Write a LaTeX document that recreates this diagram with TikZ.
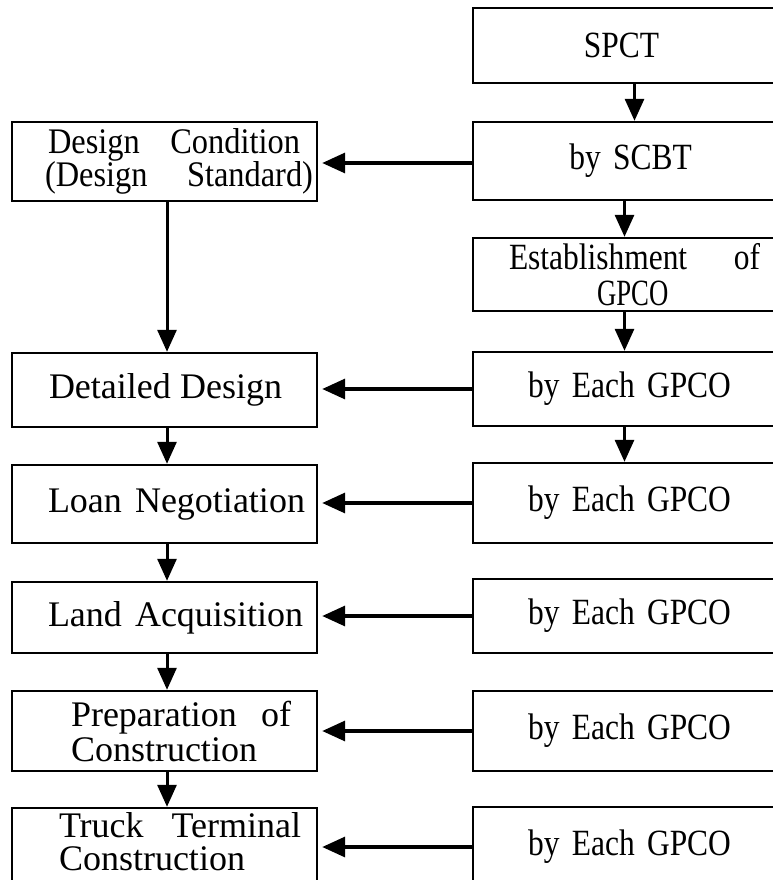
\documentclass[tikz,border=0pt]{standalone}
\usepackage{fontspec}
\usepackage{graphicx}
\setmainfont{Liberation Serif}
\newfontfamily\condfont{Liberation Serif}[FakeStretch=0.85]
\newcommand{\nrw}[1]{\scalebox{0.9}[1]{#1}}
\usetikzlibrary{arrows.meta}
\begin{document}
\begin{tikzpicture}[x=1pt,y=-1pt,
  box/.style={draw, line width=2.4pt, inner sep=0pt},
  lbox/.style={box, minimum width=305pt, text width=305pt, align=left, font=\fontsize{36}{35}\selectfont},
  rbox/.style={box, minimum width=303pt, text width=303pt, align=center, font=\condfont\fontsize{37}{33}\selectfont},
  ltext/.style={inner sep=0pt, text width=305pt, align=left, font=\fontsize{36}{33}\selectfont},
  harr/.style={line width=3.4pt, shorten >=4pt, -{Triangle[length=23pt,width=20pt]}},
  varr/.style={line width=3pt, -{Triangle[length=22pt,width=19pt]}}]
\useasboundingbox (0,0) rectangle (773,880);
\clip (0,0) rectangle (773,880);
% right column
\node[rbox, minimum height=75pt] (spct) at (624.5,45.5) {\hspace*{-6pt}SPCT};
\node[rbox, minimum height=78pt] (scbt) at (624.5,161) {\hspace*{12pt}by SCBT};
\node[rbox, align=left, minimum height=73pt, font=\condfont\fontsize{37}{36}\selectfont] (est) at (624.5,274.5) {\hspace*{36pt}\makebox[251pt]{Establishment\hfill of}\\\hspace*{124pt}\scalebox{0.85}[1]{GPCO}};
\node[rbox, minimum height=74pt] (g1) at (624.5,389) {\hspace*{10pt}by Each GPCO};
\node[rbox, minimum height=80pt] (g2) at (624.5,503) {\hspace*{10pt}by Each GPCO};
\node[rbox, minimum height=74pt] (g3) at (624.5,616) {\hspace*{10pt}by Each GPCO};
\node[rbox, minimum height=80pt] (g4) at (624.5,731) {\hspace*{10pt}by Each GPCO};
\node[rbox, minimum height=80pt] (g5) at (624.5,847) {\hspace*{10pt}by Each GPCO};
% left column
\node[lbox, minimum height=79pt, font=\fontsize{36}{30}\selectfont] (dc) at (164.5,161.5) {\hspace*{36pt}\makebox[252pt]{\nrw{Design}\hfill\nrw{Condition}}\\\hspace*{33pt}\makebox[268pt]{\nrw{(Design}\hfill\nrw{Standard)}}};
\node[lbox, minimum height=74pt] (dd) at (164.5,390) {\hspace*{37pt}\makebox[233pt]{Detailed\hfill Design}};
\node[lbox, minimum height=78pt] (ln) at (164.5,504) {\hspace*{36pt}\makebox[257pt]{Loan\hfill Negotiation}};
\node[lbox, minimum height=71pt] (la) at (164.5,617.5) {\hspace*{36pt}\makebox[255pt]{Land\hfill Acquisition}};
\node[lbox, minimum height=80pt] (pc) at (164.5,731) {\hspace*{59pt}\makebox[220pt]{Preparation\hfill of}\\\hspace*{59pt}Construction};
\node[lbox, minimum height=76pt] (tt) at (164.5,846) {};
\node[ltext, anchor=north west] (tttext) at ([yshift=-6pt]tt.north west) {\hspace*{48pt}\makebox[242pt]{Truck\hfill Terminal}\\\hspace*{48pt}Construction};
% vertical arrows right
\draw[varr] ([xshift=10pt]spct.south) -- ([xshift=10pt]scbt.north);
\draw[varr] (scbt.south) -- (est.north);
\draw[varr] (est.south) -- (g1.north);
\draw[varr] (g1.south) -- (g2.north);
% vertical arrows left
\draw[varr] ([xshift=2.5pt]dc.south) -- ([xshift=2.5pt]dd.north);
\draw[varr] ([xshift=2.5pt]dd.south) -- ([xshift=2.5pt]ln.north);
\draw[varr] ([xshift=2.5pt]ln.south) -- ([xshift=2.5pt]la.north);
\draw[varr] ([xshift=2.5pt]la.south) -- ([xshift=2.5pt]pc.north);
\draw[varr] ([xshift=2.5pt]pc.south) -- ([xshift=2.5pt]tt.north);
% horizontal arrows
\draw[harr] ([yshift=-2pt]scbt.west) -- ([yshift=-2pt]scbt.west -| dc.east);
\draw[harr] (g1.west) -- (g1.west -| dd.east);
\draw[harr] (g2.west) -- (g2.west -| ln.east);
\draw[harr] (g3.west) -- (g3.west -| la.east);
\draw[harr] (g4.west) -- (g4.west -| pc.east);
\draw[harr] (g5.west) -- (g5.west -| tt.east);
\end{tikzpicture}
\end{document}
